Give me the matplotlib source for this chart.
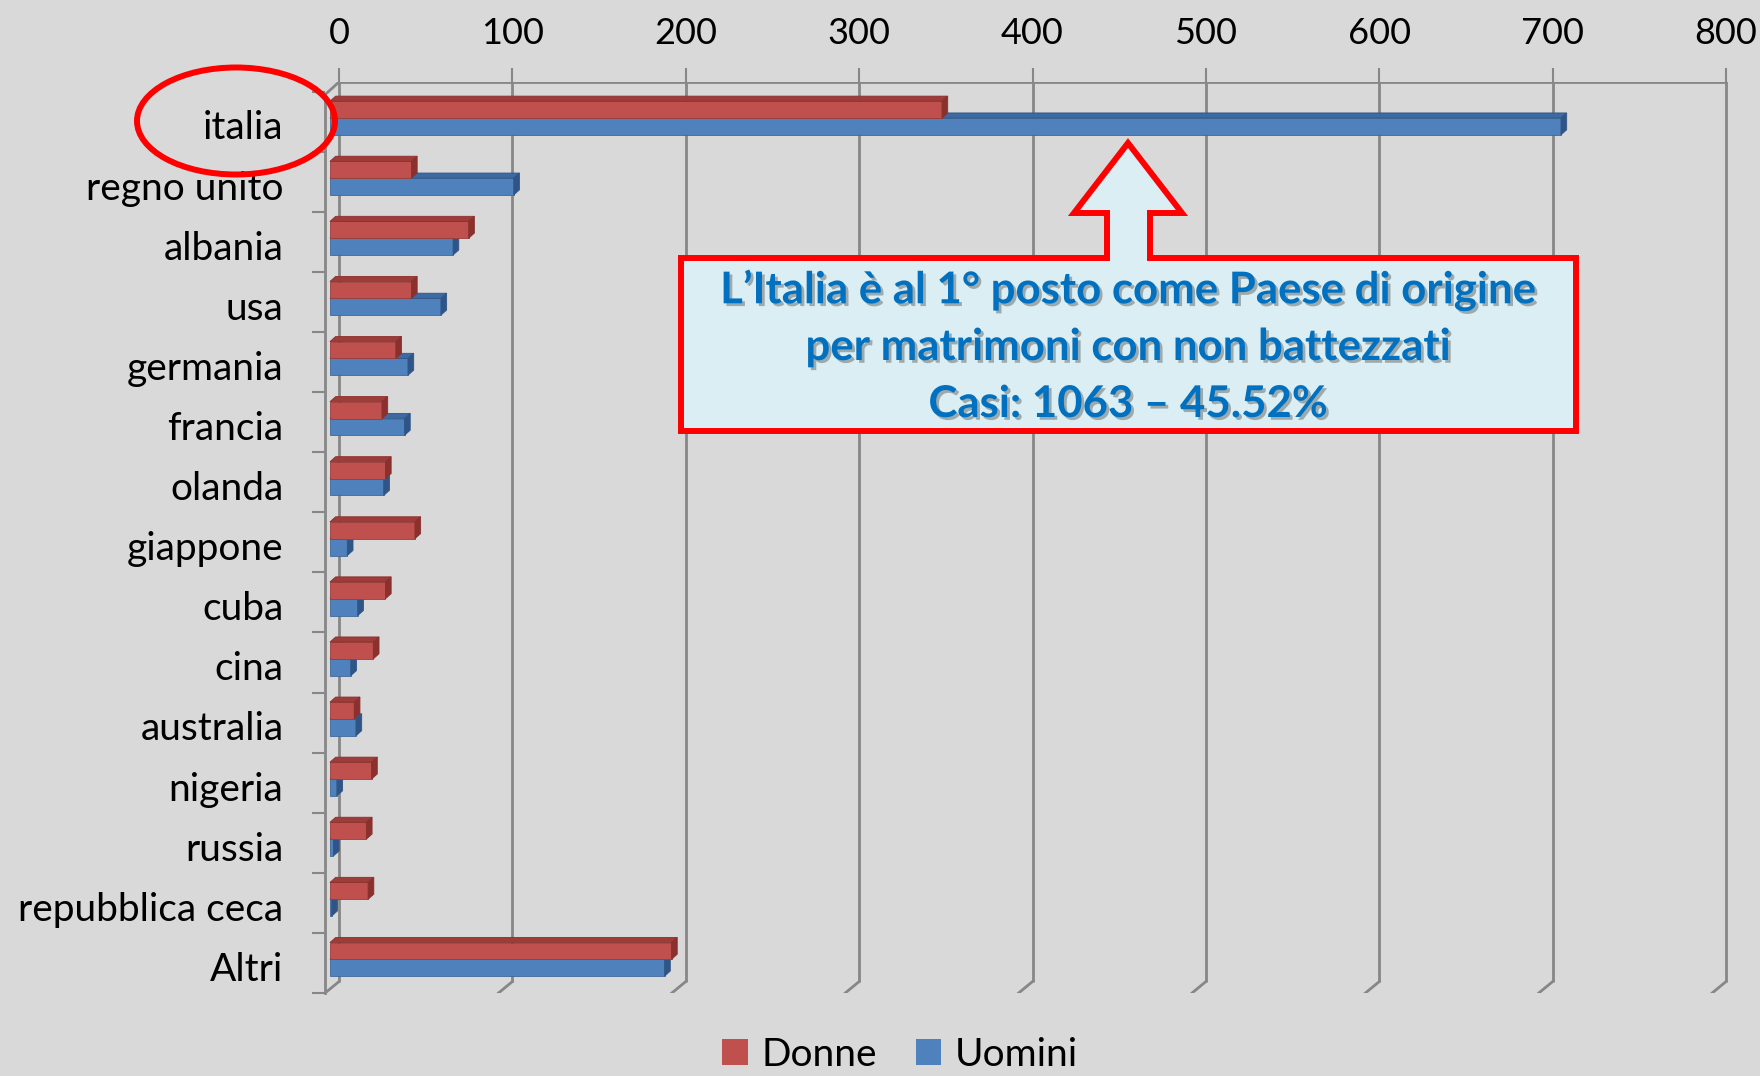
import matplotlib.pyplot as plt
import matplotlib.patheffects as pe
import matplotlib.transforms as mtransforms
from matplotlib.patches import Polygon, Ellipse, Patch
import numpy as np

plt.rcParams['font.family'] = ['Lato', 'DejaVu Sans']

# dati
paesi = ['italia', 'regno unito', 'albania', 'usa', 'germania', 'francia', 'olanda',
         'giappone', 'cuba', 'cina', 'australia', 'nigeria', 'russia',
         'repubblica ceca', 'Altri']
donne = [353, 47, 80, 47, 38, 30, 32, 49, 32, 25, 14, 24, 21, 22, 197]
uomini = [710, 106, 71, 64, 45, 43, 31, 10, 16, 12, 15, 4, 2, 1, 193]
xticks = [0, 100, 200, 300, 400, 500, 600, 700, 800]

W, H = 1760, 1076
BG = '#d9d9d9'
GRID = '#878787'
RED, RED_TOP, RED_SIDE = '#c0504d', '#9e3c39', '#8a302d'
BLUE, BLUE_TOP, BLUE_SIDE = '#4f81bd', '#3d6aa3', '#2f5587'

fig = plt.figure(figsize=(W / 100, H / 100), dpi=100, facecolor=BG)
ax = fig.add_axes([325.1 / W, 1 - 993 / H, 1404.4 / W, 911 / H])
ax.set_facecolor(BG)
ax.set_xlim(-8, 802)
ax.set_ylim(14.56, -0.6)
for s in ax.spines.values():
    s.set_visible(False)

rows = np.arange(len(paesi))
back_top, back_bot = -0.6, 14.37
front_dx, front_dy = -8, 0.19

# pareti / griglia
for xv in xticks:
    ax.plot([xv, xv], [back_top, back_bot], color=GRID, lw=2, zorder=1, solid_capstyle='butt')
    ax.plot([xv, xv + front_dx], [back_bot, back_bot + front_dy], color=GRID, lw=2, zorder=1)
ax.plot([0, 800], [back_top, back_top], color=GRID, lw=2, zorder=1)
ax.plot([0, front_dx], [back_top, back_top + front_dy + 0.02], color=GRID, lw=2, zorder=1)
ax.plot([front_dx, front_dx], [back_top + front_dy + 0.02, back_bot + front_dy],
        color=GRID, lw=2, zorder=1, clip_on=False)

# barre 3D
h = 0.28
x0 = -5.2
ddx, ddy = 3.3, -0.085


def faces(vals, ytop, top_c, side_c, z):
    for v, yt in zip(vals, ytop):
        top = [(x0, yt), (x0 + v, yt), (x0 + v + ddx, yt + ddy), (x0 + ddx, yt + ddy)]
        side = [(x0 + v, yt), (x0 + v, yt + h), (x0 + v + ddx, yt + h + ddy),
                (x0 + v + ddx, yt + ddy)]
        ax.add_patch(Polygon(top, closed=True, fc=top_c, ec=side_c, lw=0.6, zorder=z))
        ax.add_patch(Polygon(side, closed=True, fc=side_c, ec=side_c, lw=0.6, zorder=z))


ax.barh(rows, uomini, height=h, left=x0, align='edge', color=BLUE,
        edgecolor='#41699a', lw=0.6, zorder=3)
faces(uomini, rows, BLUE_TOP, BLUE_SIDE, 3)
ax.barh(rows - h, donne, height=h, left=x0, align='edge', color=RED,
        edgecolor='#9a3d3a', lw=0.6, zorder=4)
faces(donne, rows - h, RED_TOP, RED_SIDE, 4)

# assi
ax.xaxis.tick_top()
ax.set_xticks(xticks)
ax.set_xticklabels([str(t) for t in xticks], fontsize=26)
ax.tick_params(axis='x', length=10, width=1.5, color=GRID, pad=13)

ax.set_yticks(rows)
ax.set_yticklabels(paesi, fontsize=28)
ax.tick_params(axis='y', which='major', length=0, pad=30)
ax.set_yticks(np.arange(-1, len(paesi)) + 0.56, minor=True)
ax.tick_params(axis='y', which='minor', length=9.5, width=1.5, color=GRID)
shift = mtransforms.ScaledTranslation(0, -5 / 72, fig.dpi_scale_trans)
for lab in ax.get_yticklabels():
    lab.set_transform(lab.get_transform() + shift)


def px(x, y):
    return (x / W, 1 - y / H)


# ellisse su italia
ax_el = Ellipse(px(236, 121), 198 / W, 107 / H, transform=fig.transFigure,
                fill=False, ec='#ff0000', lw=4.3, zorder=10)
fig.patches.append(ax_el)

# riquadro con freccia
pts = [(681, 258), (1107, 258), (1107, 213), (1074, 213), (1128, 143), (1182, 213),
       (1150, 213), (1150, 258), (1576, 258), (1576, 431), (681, 431)]
callout = Polygon([px(*p) for p in pts], closed=True, transform=fig.transFigure,
                  fc='#daeef3', ec='#ff0000', lw=4.3, joinstyle='miter', zorder=10)
fig.patches.append(callout)

righe = ['L\u2019Italia è al 1° posto come Paese di origine',
         'per matrimoni con non battezzati',
         'Casi: 1063 \u2013 45.52%']
shadow = [pe.withSimplePatchShadow(offset=(2, -2), shadow_rgbFace='#555555', alpha=0.45)]
for testo, yy in zip(righe, [290, 347, 404]):
    fig.text(*px(1128, yy), testo, ha='center', va='center', fontsize=31.5,
             fontweight='bold', color='#0070c0', path_effects=shadow, zorder=11)

# legenda
handles = [Patch(facecolor=RED, label='Donne'), Patch(facecolor=BLUE, label='Uomini')]
fig.legend(handles=handles, loc='center', bbox_to_anchor=px(900, 1055), ncol=2,
           frameon=False, fontsize=28, handlelength=0.65, handleheight=0.65,
           handletextpad=0.35, columnspacing=1.0, borderpad=0)

fig.savefig('out.png', dpi=100, facecolor=BG)
